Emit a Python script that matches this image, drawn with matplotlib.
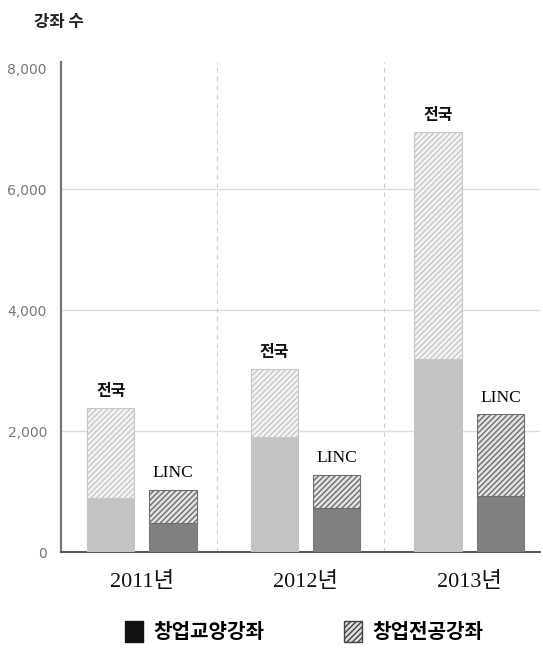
import numpy as np
import matplotlib.pyplot as plt
from matplotlib.patches import Patch

plt.rcParams['font.family'] = ['Noto Sans CJK KR', 'DejaVu Sans']
plt.rcParams['hatch.linewidth'] = 1.0

# 데이터
years = ['2011년', '2012년', '2013년']
nat_basic = [900, 1900, 3190]      # 전국 창업교양강좌
nat_major = [1490, 1125, 3760]     # 전국 창업전공강좌
linc_basic = [480, 730, 920]       # LINC 창업교양강좌
linc_major = [550, 550, 1360]      # LINC 창업전공강좌
yticks = [0, 2000, 4000, 6000, 8000]

serif = ['Liberation Serif', 'Noto Sans CJK KR']

fig = plt.figure(figsize=(5.43, 6.48), dpi=100)
ax = fig.add_axes([0.112, 0.148, 0.882, 0.756])

x = np.arange(len(years))
w = 0.29
off = 0.19

# 전국
ax.bar(x - off, nat_basic, w, color='#c3c3c3', edgecolor='#c3c3c3', linewidth=0.8, zorder=3)
ax.bar(x - off, nat_major, w, bottom=nat_basic, color='#f4f4f4', edgecolor='#c8c8c8',
       hatch='//////', linewidth=0.8, zorder=3)
# LINC
ax.bar(x + off, linc_basic, w, color='#808080', edgecolor='#7a7a7a', linewidth=0.8, zorder=3)
ax.bar(x + off, linc_major, w, bottom=linc_basic, color='#e2e2e2', edgecolor='#6e6e6e',
       hatch='//////', linewidth=0.8, zorder=3)

# 막대 위 라벨
for i in range(len(years)):
    top_n = nat_basic[i] + nat_major[i]
    top_l = linc_basic[i] + linc_major[i]
    ax.annotate('전국', (x[i] - off, top_n), xytext=(0, 12), textcoords='offset points',
                ha='center', va='center', fontsize=11.5, fontweight='bold', color='#111111')
    ax.annotate('LINC', (x[i] + off, top_l), xytext=(0, 12), textcoords='offset points',
                ha='center', va='center', fontsize=12.5, family=serif, color='#000000')

# 구분선
for sx in [0.46, 1.48]:
    ax.axvline(sx, color='#cccccc', linestyle=(0, (4, 4)), linewidth=0.8, zorder=1)

# 가로 격자 (8,000 선 없음)
for gy in yticks[1:-1]:
    ax.axhline(gy, color='#dddddd', linewidth=1.0, zorder=0)

ax.set_xlim(-0.495, 2.43)
ax.set_ylim(0, 8100)
ax.set_yticks(yticks)
ax.set_yticklabels([f'{v:,}' for v in yticks], family='DejaVu Sans', fontsize=10, color='#777777')
ax.tick_params(axis='y', length=0, pad=10)
ax.set_xticks(x)
ax.set_xticklabels(years, family=serif, fontsize=16, color='#111111')
ax.tick_params(axis='x', length=0, pad=14)

for side in ['top', 'right']:
    ax.spines[side].set_visible(False)
ax.spines['left'].set_color('#777777')
ax.spines['left'].set_linewidth(1.6)
ax.spines['bottom'].set_color('#555555')
ax.spines['bottom'].set_linewidth(1.4)

fig.text(0.062, 0.966, '강좌 수', fontsize=12, fontweight='bold', color='#222222', va='center')

handles = [Patch(facecolor='#111111', edgecolor='#111111'),
           Patch(facecolor='#dddddd', edgecolor='#444444', hatch='//////')]
fig.legend(handles, ['창업교양강좌', '창업전공강좌'], loc='center', bbox_to_anchor=(0.56, 0.025),
           ncol=2, frameon=False, prop={'size': 14.5, 'weight': 'bold'},
           handlelength=0.9, handleheight=1.2, columnspacing=4.0, handletextpad=0.5)

fig.savefig('out.png', dpi=100)
